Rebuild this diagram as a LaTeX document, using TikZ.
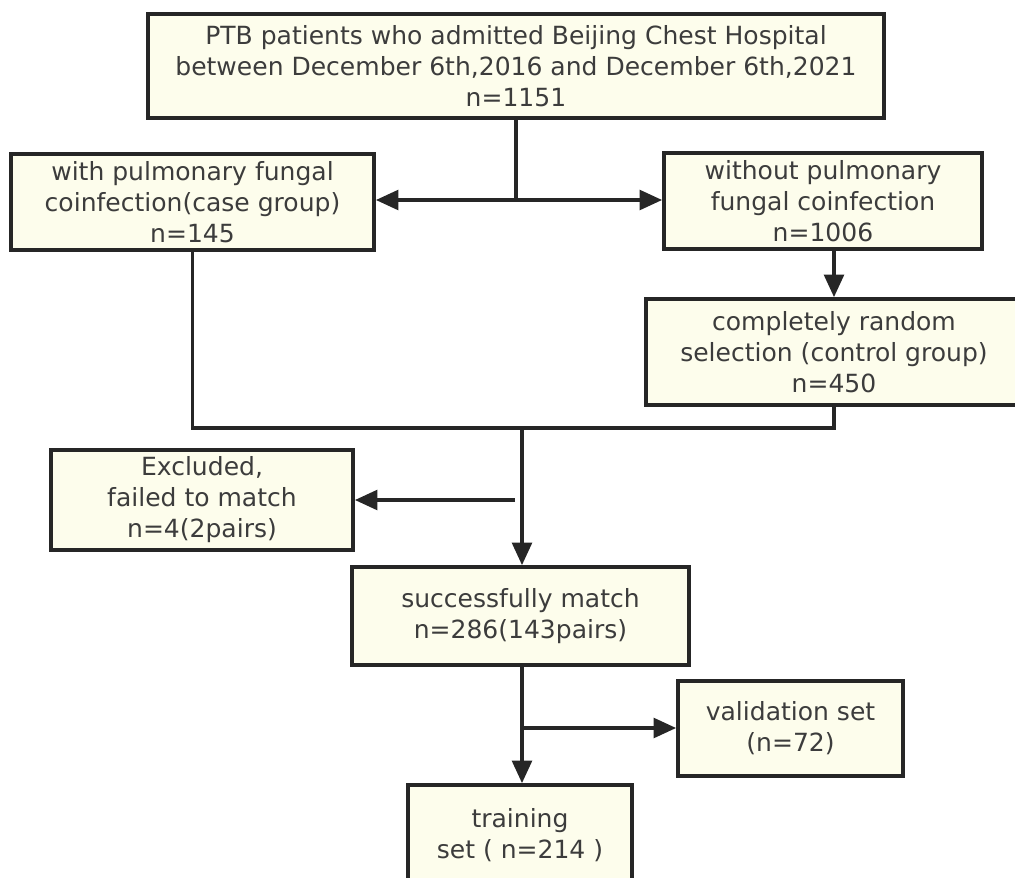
\documentclass[tikz,border=0pt]{standalone}
\usepackage{fontspec}
\setmainfont{DejaVu Sans}
\usetikzlibrary{arrows.meta}
\definecolor{boxfill}{HTML}{FDFDEC}
\definecolor{boxline}{HTML}{262626}
\definecolor{boxtext}{HTML}{3C3C3C}
\tikzset{
	flowbox/.style={draw=boxline,fill=boxfill,line width=2.6pt,align=center,inner sep=0pt,
		text=boxtext,font=\fontsize{17.8}{22}\selectfont},
	flowline/.style={draw=boxline,line width=2.5pt},
	flowarr/.style={flowline,-{Triangle[length=16pt,width=14pt]}}
}
\begin{document}
\begin{tikzpicture}[x=0.025cm,y=-0.025cm]
		\useasboundingbox (0,0) rectangle (1015,877);
		
		\node [flowbox,minimum width=18.4cm,minimum height=2.6cm] (top) at (516,66) {PTB patients who admitted Beijing Chest Hospital\\between December 6th,2016 and December 6th,2021\\n=1151};
		\node [flowbox,minimum width=9.075cm,minimum height=2.4cm] (case) at (192.5,202) {with pulmonary fungal\\coinfection(case group)\\n=145};
		\node [flowbox,minimum width=7.95cm,minimum height=2.4cm] (nocase) at (823,201) {without pulmonary\\fungal coinfection\\n=1006};
		\node [flowbox,minimum width=9.4cm,minimum height=2.65cm] (ctrl) at (834,352) {completely random\\selection (control group)\\n=450};
		\node [flowbox,minimum width=7.55cm,minimum height=2.5cm] (excl) at (202,500) {Excluded,\\failed to match\\n=4(2pairs)};
		\node [flowbox,minimum width=8.425cm,minimum height=2.45cm] (match) at (520.5,616) {successfully match\\n=286(143pairs)};
		\node [flowbox,minimum width=5.625cm,minimum height=2.375cm] (valid) at (790.5,728.5) {validation set\\(n=72)};
		\node [flowbox,minimum width=5.6cm,minimum height=2.5cm] (train) at (520,835) {training\\set ( n=214 )};
		
		\coordinate (split) at (516,200);
		\coordinate (merge) at (522,428);
		\coordinate (exbranch) at (515,500);
		\coordinate (vbranch) at (522,728);
		
		\draw [flowline](top.south)--(split);
		\draw [flowarr](split)--(split -| case.east);
		\draw [flowarr](split)--(split -| nocase.west);
		\draw [flowarr](ctrl.north |- nocase.south)--(ctrl.north);
		
		\draw [flowline](case.south)|-(ctrl.south |- merge)--(ctrl.south);
		\draw [flowarr](merge)--(merge |- match.north);
		\draw [flowarr](exbranch)--(exbranch -| excl.east);
		
		\draw [flowarr](match.south -| vbranch)--(vbranch |- train.north);
		\draw [flowarr](vbranch)--(vbranch -| valid.west);
	
	\end{tikzpicture}
\end{document}
